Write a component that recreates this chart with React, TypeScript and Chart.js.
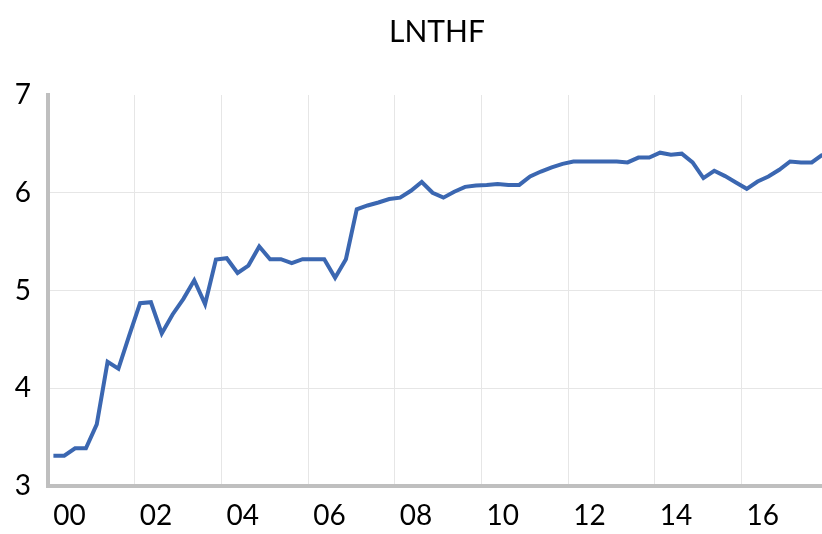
import React, { useEffect, useRef } from "react";
import { Chart, registerables } from "chart.js";

Chart.register(...registerables);

const chartTitle = "LNTHF";
const years = [2000, 2001, 2002, 2003, 2004, 2005, 2006, 2007, 2008, 2009, 2010, 2011, 2012, 2013, 2014, 2015, 2016, 2017];
const quarters = ["Q1", "Q2", "Q3", "Q4"];
const categories: string[] = years.flatMap((y) => quarters.map((q) => `${y}${q}`));
const tickLabels = ["00", "02", "04", "06", "08", "10", "12", "14", "16"];
const lnthf = [
  3.31, 3.31, 3.385, 3.385, 3.63, 4.27, 4.2, 4.54,
  4.87, 4.88, 4.56, 4.755, 4.915, 5.105, 4.86, 5.316,
  5.33, 5.18, 5.255, 5.45, 5.32, 5.32, 5.28, 5.32,
  5.32, 5.32, 5.13, 5.32, 5.83, 5.87, 5.9, 5.936,
  5.95, 6.02, 6.11, 6.0, 5.95, 6.01, 6.06, 6.075,
  6.08, 6.09, 6.08, 6.08, 6.166, 6.217, 6.26, 6.296,
  6.32, 6.32, 6.32, 6.32, 6.32, 6.31, 6.36, 6.36,
  6.41, 6.39, 6.4, 6.31, 6.15, 6.225, 6.17, 6.105,
  6.04, 6.115, 6.166, 6.235, 6.32, 6.31, 6.31, 6.39,
];
const yMin = 3;
const yMax = 7;

const FONT = "Lato, 'Open Sans', sans-serif";

export default function App() {
  const ref = useRef<HTMLCanvasElement | null>(null);

  useEffect(() => {
    if (!ref.current) return;
    const chart = new Chart(ref.current, {
      type: "line",
      data: {
        labels: categories,
        datasets: [
          {
            label: chartTitle,
            data: lnthf,
            borderColor: "#3B67B1",
            borderWidth: 4,
            pointRadius: 0,
            tension: 0,
            fill: false,
            yAxisID: "y",
          },
        ],
      },
      options: {
        responsive: false,
        animation: false,
        devicePixelRatio: 1,
        layout: { padding: { left: 0, right: 0, top: 0, bottom: 0 } },
        plugins: {
          legend: { display: false },
          tooltip: { enabled: false },
          title: {
            display: true,
            text: chartTitle,
            color: "#000000",
            font: { family: FONT, size: 30, weight: "normal" },
            padding: { top: 14, bottom: 45 },
          },
        },
        scales: {
          x: {
            type: "category",
            offset: true,
            afterFit: (scale: any) => {
              scale.height = 48;
            },
            grid: {
              offset: true,
              drawTicks: false,
              lineWidth: 1,
              color: (ctx: any) => (ctx.index % 8 === 0 && ctx.index > 0 ? "#e6e6e6" : "rgba(0,0,0,0)"),
            },
            border: { display: true, color: "#bfbfbf", width: 4 },
            ticks: {
              autoSkip: false,
              maxRotation: 0,
              minRotation: 0,
              padding: 13,
              labelOffset: 16,
              color: "#000000",
              font: { family: FONT, size: 28 },
              callback: (_v: any, i: number) => (i % 8 === 0 ? tickLabels[i / 8] ?? "" : ""),
            },
          },
          y: {
            min: yMin,
            max: yMax,
            afterFit: (scale: any) => {
              scale.width = 48;
            },
            grid: {
              drawTicks: false,
              lineWidth: 1,
              color: (ctx: any) => (ctx.tick && ctx.tick.value === yMax ? "rgba(0,0,0,0)" : "#e6e6e6"),
            },
            border: { display: true, color: "#bfbfbf", width: 4 },
            ticks: {
              stepSize: 1,
              padding: 17,
              color: "#000000",
              font: { family: FONT, size: 28 },
            },
          },
          yRightSpace: {
            position: "right",
            min: yMin,
            max: yMax,
            afterFit: (scale: any) => {
              scale.width = 46;
            },
            grid: { display: false, drawTicks: false },
            border: { display: false },
            ticks: { display: false },
          },
        },
      },
    });
    return () => chart.destroy();
  }, []);

  return (
    <div style={{ position: "fixed", left: 0, top: 0, width: 822, height: 534, overflow: "hidden", background: "#ffffff" }}>
      <canvas ref={ref} width={874} height={534} style={{ display: "block", width: 874, height: 534 }} />
    </div>
  );
}
